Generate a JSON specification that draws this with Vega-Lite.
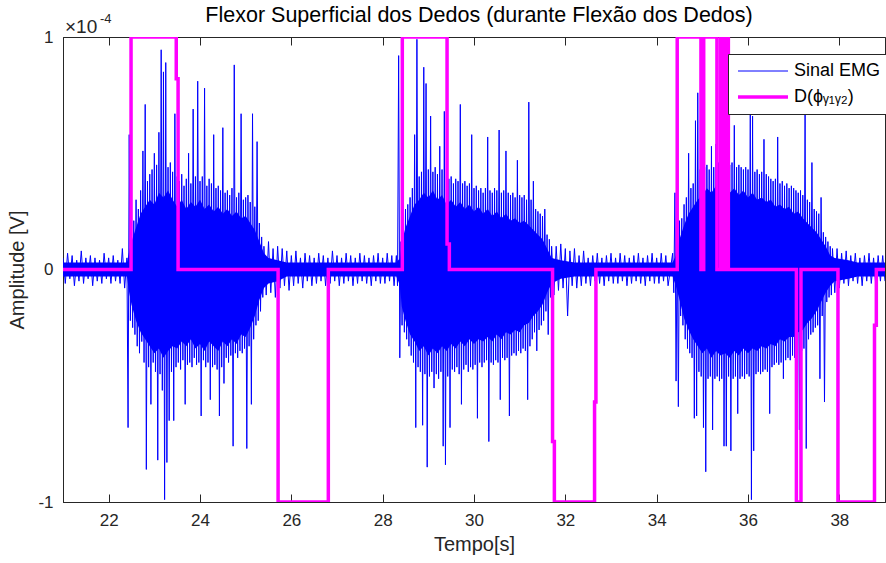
{
"$schema": "https://vega.github.io/schema/vega-lite/v6.json",
"width": 822, "height": 465,
"autosize": {"type": "none"},
"padding": {"left": 63, "top": 37, "right": 1, "bottom": 61},
"background": "white",
"title": {"text": "Flexor Superficial dos Dedos (durante Flexão dos Dedos)", "fontSize": 21.5, "font": "Liberation Sans", "fontWeight": "normal", "color": "#000000", "offset": -13, "anchor": "middle", "dx": 5},
"config": {
  "view": {"stroke": "#262626", "strokeWidth": 1},
  "axis": {"grid": false, "domainColor": "#262626", "tickColor": "#262626", "labelColor": "#262626", "titleColor": "#262626", "labelFont": "Liberation Sans", "titleFont": "Liberation Sans", "labelFontSize": 17, "titleFontSize": 20, "titleFontWeight": "normal", "tickSize": -8, "labelPadding": 18}
},
"datasets": {
"emg": [
{"t":21.00,"v":0.05},{"t":21.05,"v":-0.06},{"t":21.10,"v":0.07},{"t":21.15,"v":-0.04},{"t":21.20,"v":0.06},{"t":21.25,"v":-0.07},{"t":21.30,"v":0.04},{"t":21.35,"v":-0.05},{"t":21.40,"v":0.08},{"t":21.45,"v":-0.06},{"t":21.50,"v":0.05},{"t":21.55,"v":-0.04},{"t":21.60,"v":0.06},{"t":21.65,"v":-0.07},{"t":21.70,"v":0.05},{"t":21.75,"v":-0.05},{"t":21.80,"v":0.04},{"t":21.85,"v":-0.06},{"t":21.90,"v":0.07},{"t":21.95,"v":-0.04},{"t":22.00,"v":0.05},{"t":22.05,"v":-0.06},{"t":22.10,"v":0.06},{"t":22.15,"v":-0.05},{"t":22.20,"v":0.04},{"t":22.25,"v":-0.06},{"t":22.30,"v":0.09},{"t":22.35,"v":-0.08},
{"t":22.400,"v":0.05},{"t":22.425,"v":-0.68},{"t":22.450,"v":0.58},{"t":22.475,"v":-0.22},{"t":22.500,"v":0.16},{"t":22.525,"v":-0.25},{"t":22.550,"v":0.21},{"t":22.575,"v":-0.28},{"t":22.600,"v":0.30},{"t":22.625,"v":-0.33},{"t":22.650,"v":0.26},{"t":22.675,"v":-0.36},{"t":22.700,"v":0.34},{"t":22.725,"v":-0.31},{"t":22.750,"v":0.51},{"t":22.775,"v":-0.40},{"t":22.800,"v":0.71},{"t":22.825,"v":-0.86},{"t":22.850,"v":0.38},{"t":22.875,"v":-0.42},{"t":22.900,"v":0.41},{"t":22.925,"v":-0.58},{"t":22.950,"v":0.43},{"t":22.975,"v":-0.40},{"t":23.000,"v":0.50},{"t":23.025,"v":-0.44},{"t":23.050,"v":0.45},{"t":23.075,"v":-0.82},{"t":23.100,"v":0.59},{"t":23.125,"v":-0.45},{"t":23.150,"v":0.945},{"t":23.175,"v":-0.52},{"t":23.200,"v":0.85},{"t":23.225,"v":-0.99},{"t":23.250,"v":0.89},{"t":23.275,"v":-0.83},{"t":23.300,"v":0.44},{"t":23.325,"v":-0.65},{"t":23.350,"v":0.46},{"t":23.375,"v":-0.44},{"t":23.400,"v":0.42},{"t":23.425,"v":-0.65},{"t":23.450,"v":0.67},{"t":23.475,"v":-0.42},{"t":23.500,"v":0.40},{"t":23.525,"v":-0.40},{"t":23.550,"v":0.38},{"t":23.575,"v":-0.43},{"t":23.600,"v":0.41},{"t":23.625,"v":-0.39},{"t":23.650,"v":0.36},{"t":23.675,"v":-0.58},{"t":23.700,"v":0.39},{"t":23.725,"v":-0.41},{"t":23.750,"v":0.50},{"t":23.775,"v":-0.40},{"t":23.800,"v":0.37},{"t":23.825,"v":-0.42},{"t":23.850,"v":0.69},{"t":23.875,"v":-0.38},{"t":23.900,"v":0.40},{"t":23.925,"v":-0.41},{"t":23.950,"v":0.81},{"t":23.975,"v":-0.40},{"t":24.000,"v":0.38},{"t":24.025,"v":-0.63},{"t":24.050,"v":0.40},{"t":24.075,"v":-0.39},{"t":24.100,"v":0.78},{"t":24.125,"v":-0.42},{"t":24.150,"v":0.36},{"t":24.175,"v":-0.40},{"t":24.200,"v":0.39},{"t":24.225,"v":-0.56},{"t":24.250,"v":0.37},{"t":24.275,"v":-0.42},{"t":24.300,"v":0.58},{"t":24.325,"v":-0.41},{"t":24.350,"v":0.35},{"t":24.375,"v":-0.43},{"t":24.400,"v":0.36},{"t":24.425,"v":-0.63},{"t":24.450,"v":0.34},{"t":24.475,"v":-0.42},{"t":24.500,"v":0.61},{"t":24.525,"v":-0.49},{"t":24.550,"v":0.33},{"t":24.575,"v":-0.38},{"t":24.600,"v":0.34},{"t":24.625,"v":-0.40},{"t":24.650,"v":0.32},{"t":24.675,"v":-0.37},{"t":24.700,"v":0.35},{"t":24.725,"v":-0.76},{"t":24.750,"v":0.88},{"t":24.775,"v":-0.36},{"t":24.800,"v":0.31},{"t":24.825,"v":-0.38},{"t":24.850,"v":0.33},{"t":24.875,"v":-0.35},{"t":24.900,"v":0.67},{"t":24.925,"v":-0.36},{"t":24.950,"v":0.30},{"t":24.975,"v":-0.34},{"t":25.000,"v":0.31},{"t":25.025,"v":-0.77},{"t":25.050,"v":0.32},{"t":25.075,"v":-0.33},{"t":25.100,"v":0.29},{"t":25.125,"v":-0.58},{"t":25.150,"v":0.67},{"t":25.175,"v":-0.30},{"t":25.200,"v":0.27},{"t":25.225,"v":-0.24},{"t":25.250,"v":0.55},{"t":25.275,"v":-0.22},{"t":25.300,"v":0.20},{"t":25.325,"v":-0.18},{"t":25.350,"v":0.14},{"t":25.375,"v":-0.12},{"t":25.400,"v":0.10},
{"t":25.45,"v":-0.11},{"t":25.50,"v":0.12},{"t":25.55,"v":-0.10},{"t":25.60,"v":0.09},{"t":25.65,"v":-0.12},{"t":25.70,"v":0.10},{"t":25.75,"v":-0.08},{"t":25.80,"v":0.09},{"t":25.85,"v":-0.07},{"t":25.90,"v":0.08},{"t":25.95,"v":-0.09},{"t":26.00,"v":0.06},{"t":26.05,"v":-0.07},{"t":26.10,"v":0.08},{"t":26.15,"v":-0.06},{"t":26.20,"v":0.05},{"t":26.25,"v":-0.08},{"t":26.30,"v":0.07},{"t":26.35,"v":-0.05},{"t":26.40,"v":0.06},{"t":26.45,"v":-0.07},{"t":26.50,"v":0.05},{"t":26.55,"v":-0.06},{"t":26.60,"v":0.07},{"t":26.65,"v":-0.05},{"t":26.70,"v":0.06},{"t":26.75,"v":-0.07},{"t":26.80,"v":0.05},{"t":26.85,"v":-0.06},{"t":26.90,"v":0.08},{"t":26.95,"v":-0.05},{"t":27.00,"v":0.06},{"t":27.05,"v":-0.07},{"t":27.10,"v":0.05},{"t":27.15,"v":-0.06},{"t":27.20,"v":0.07},{"t":27.25,"v":-0.05},{"t":27.30,"v":0.06},{"t":27.35,"v":-0.07},{"t":27.40,"v":0.05},{"t":27.45,"v":-0.06},{"t":27.50,"v":0.07},{"t":27.55,"v":-0.05},{"t":27.60,"v":0.06},{"t":27.65,"v":-0.06},{"t":27.70,"v":0.05},{"t":27.75,"v":-0.07},{"t":27.80,"v":0.06},{"t":27.85,"v":-0.05},{"t":27.90,"v":0.07},{"t":27.95,"v":-0.06},{"t":28.00,"v":0.05},{"t":28.05,"v":-0.06},{"t":28.10,"v":0.07},{"t":28.15,"v":-0.05},{"t":28.20,"v":0.06},{"t":28.25,"v":-0.07},
{"t":28.300,"v":0.06},{"t":28.325,"v":-0.07},{"t":28.350,"v":0.92},{"t":28.375,"v":-0.38},{"t":28.400,"v":0.12},{"t":28.425,"v":-0.24},{"t":28.450,"v":0.22},{"t":28.475,"v":-0.27},{"t":28.500,"v":0.26},{"t":28.525,"v":-0.30},{"t":28.550,"v":0.28},{"t":28.575,"v":-0.33},{"t":28.600,"v":0.31},{"t":28.625,"v":-0.37},{"t":28.650,"v":0.35},{"t":28.675,"v":-0.40},{"t":28.700,"v":0.58},{"t":28.725,"v":-0.68},{"t":28.750,"v":0.99},{"t":28.775,"v":-0.42},{"t":28.800,"v":0.40},{"t":28.825,"v":-0.44},{"t":28.850,"v":0.42},{"t":28.875,"v":-0.67},{"t":28.900,"v":0.87},{"t":28.925,"v":-0.45},{"t":28.950,"v":0.80},{"t":28.975,"v":-0.85},{"t":29.000,"v":0.43},{"t":29.025,"v":-0.46},{"t":29.050,"v":0.66},{"t":29.075,"v":-0.44},{"t":29.100,"v":0.42},{"t":29.125,"v":-0.51},{"t":29.150,"v":0.44},{"t":29.175,"v":-0.45},{"t":29.200,"v":0.41},{"t":29.225,"v":-0.47},{"t":29.250,"v":0.53},{"t":29.275,"v":-0.44},{"t":29.300,"v":0.43},{"t":29.325,"v":-0.76},{"t":29.350,"v":0.68},{"t":29.375,"v":-0.84},{"t":29.400,"v":0.42},{"t":29.425,"v":-0.46},{"t":29.450,"v":0.39},{"t":29.475,"v":-0.68},{"t":29.500,"v":0.40},{"t":29.525,"v":-0.43},{"t":29.550,"v":0.37},{"t":29.575,"v":-0.44},{"t":29.600,"v":0.39},{"t":29.625,"v":-0.42},{"t":29.650,"v":0.38},{"t":29.675,"v":-0.45},{"t":29.700,"v":0.71},{"t":29.725,"v":-0.58},{"t":29.750,"v":0.37},{"t":29.775,"v":-0.43},{"t":29.800,"v":0.38},{"t":29.825,"v":-0.41},{"t":29.850,"v":0.36},{"t":29.875,"v":-0.44},{"t":29.900,"v":0.37},{"t":29.925,"v":-0.42},{"t":29.950,"v":0.58},{"t":29.975,"v":-0.43},{"t":30.000,"v":0.35},{"t":30.025,"v":-0.41},{"t":30.050,"v":0.36},{"t":30.075,"v":-0.64},{"t":30.100,"v":0.34},{"t":30.125,"v":-0.40},{"t":30.150,"v":0.35},{"t":30.175,"v":-0.42},{"t":30.200,"v":0.33},{"t":30.225,"v":-0.40},{"t":30.250,"v":0.35},{"t":30.275,"v":-0.39},{"t":30.300,"v":0.57},{"t":30.325,"v":-0.74},{"t":30.350,"v":0.34},{"t":30.375,"v":-0.40},{"t":30.400,"v":0.33},{"t":30.425,"v":-0.41},{"t":30.450,"v":0.35},{"t":30.475,"v":-0.39},{"t":30.500,"v":0.34},{"t":30.525,"v":-0.40},{"t":30.550,"v":0.60},{"t":30.575,"v":-0.56},{"t":30.600,"v":0.33},{"t":30.625,"v":-0.38},{"t":30.650,"v":0.34},{"t":30.675,"v":-0.39},{"t":30.700,"v":0.51},{"t":30.725,"v":-0.38},{"t":30.750,"v":0.33},{"t":30.775,"v":-0.63},{"t":30.800,"v":0.32},{"t":30.825,"v":-0.37},{"t":30.850,"v":0.33},{"t":30.875,"v":-0.36},{"t":30.900,"v":0.31},{"t":30.925,"v":-0.37},{"t":30.950,"v":0.47},{"t":30.975,"v":-0.35},{"t":31.000,"v":0.32},{"t":31.025,"v":-0.36},{"t":31.050,"v":0.31},{"t":31.075,"v":-0.34},{"t":31.100,"v":0.32},{"t":31.125,"v":-0.35},{"t":31.150,"v":0.30},{"t":31.175,"v":-0.56},{"t":31.200,"v":0.72},{"t":31.225,"v":-0.33},{"t":31.250,"v":0.30},{"t":31.275,"v":-0.30},{"t":31.300,"v":0.38},{"t":31.325,"v":-0.27},{"t":31.350,"v":0.26},{"t":31.375,"v":-0.35},{"t":31.400,"v":0.25},{"t":31.425,"v":-0.26},{"t":31.450,"v":0.24},{"t":31.475,"v":-0.24},{"t":31.500,"v":0.23},{"t":31.525,"v":-0.22},{"t":31.550,"v":0.26},{"t":31.575,"v":-0.18},{"t":31.600,"v":0.15},{"t":31.625,"v":-0.28},{"t":31.650,"v":0.13},{"t":31.675,"v":-0.12},{"t":31.700,"v":0.10},
{"t":31.75,"v":-0.11},{"t":31.80,"v":0.10},{"t":31.85,"v":-0.09},{"t":31.90,"v":0.11},{"t":31.95,"v":-0.08},{"t":32.00,"v":0.09},{"t":32.05,"v":-0.20},{"t":32.10,"v":0.08},{"t":32.15,"v":-0.07},{"t":32.20,"v":0.09},{"t":32.25,"v":-0.08},{"t":32.30,"v":0.06},{"t":32.35,"v":-0.07},{"t":32.40,"v":0.08},{"t":32.45,"v":-0.06},{"t":32.50,"v":0.05},{"t":32.55,"v":-0.07},{"t":32.60,"v":0.06},{"t":32.65,"v":-0.05},{"t":32.70,"v":0.07},{"t":32.75,"v":-0.06},{"t":32.80,"v":0.05},{"t":32.85,"v":-0.07},{"t":32.90,"v":0.06},{"t":32.95,"v":-0.05},{"t":33.00,"v":0.07},{"t":33.05,"v":-0.06},{"t":33.10,"v":0.05},{"t":33.15,"v":-0.06},{"t":33.20,"v":0.07},{"t":33.25,"v":-0.05},{"t":33.30,"v":0.06},{"t":33.35,"v":-0.07},{"t":33.40,"v":0.05},{"t":33.45,"v":-0.06},{"t":33.50,"v":0.06},{"t":33.55,"v":-0.05},{"t":33.60,"v":0.07},{"t":33.65,"v":-0.06},{"t":33.70,"v":0.05},{"t":33.75,"v":-0.07},{"t":33.80,"v":0.06},{"t":33.85,"v":-0.05},{"t":33.90,"v":0.07},{"t":33.95,"v":-0.06},{"t":34.00,"v":0.05},{"t":34.05,"v":-0.06},{"t":34.10,"v":0.07},{"t":34.15,"v":-0.05},{"t":34.20,"v":0.06},{"t":34.25,"v":-0.07},
{"t":34.350,"v":0.07},{"t":34.375,"v":-0.10},{"t":34.400,"v":0.33},{"t":34.425,"v":-0.48},{"t":34.450,"v":0.18},{"t":34.475,"v":-0.59},{"t":34.500,"v":0.21},{"t":34.525,"v":-0.20},{"t":34.550,"v":0.22},{"t":34.575,"v":-0.24},{"t":34.600,"v":0.28},{"t":34.625,"v":-0.30},{"t":34.650,"v":0.31},{"t":34.675,"v":-0.34},{"t":34.700,"v":0.50},{"t":34.725,"v":-0.36},{"t":34.750,"v":0.35},{"t":34.775,"v":-0.38},{"t":34.800,"v":0.37},{"t":34.825,"v":-0.64},{"t":34.850,"v":0.64},{"t":34.875,"v":-0.63},{"t":34.900,"v":0.76},{"t":34.925,"v":-0.44},{"t":34.950,"v":0.43},{"t":34.975,"v":-0.46},{"t":35.000,"v":0.42},{"t":35.025,"v":-0.68},{"t":35.050,"v":0.44},{"t":35.075,"v":-0.87},{"t":35.100,"v":0.45},{"t":35.125,"v":-0.47},{"t":35.150,"v":0.43},{"t":35.175,"v":-0.46},{"t":35.200,"v":0.53},{"t":35.225,"v":-0.69},{"t":35.250,"v":0.44},{"t":35.275,"v":-0.47},{"t":35.300,"v":0.54},{"t":35.325,"v":-0.46},{"t":35.350,"v":0.46},{"t":35.375,"v":-0.48},{"t":35.400,"v":0.45},{"t":35.425,"v":-0.47},{"t":35.450,"v":0.76},{"t":35.475,"v":-0.76},{"t":35.500,"v":0.46},{"t":35.525,"v":-0.76},{"t":35.550,"v":0.47},{"t":35.575,"v":-0.46},{"t":35.600,"v":0.45},{"t":35.625,"v":-0.78},{"t":35.650,"v":0.46},{"t":35.675,"v":-0.47},{"t":35.700,"v":0.62},{"t":35.725,"v":-0.46},{"t":35.750,"v":0.44},{"t":35.775,"v":-0.62},{"t":35.800,"v":0.45},{"t":35.825,"v":-0.47},{"t":35.850,"v":0.44},{"t":35.875,"v":-0.46},{"t":35.900,"v":0.43},{"t":35.925,"v":-0.47},{"t":35.950,"v":0.44},{"t":35.975,"v":-0.45},{"t":36.000,"v":0.43},{"t":36.025,"v":-0.46},{"t":36.050,"v":0.67},{"t":36.075,"v":-0.99},{"t":36.100,"v":0.66},{"t":36.125,"v":-0.78},{"t":36.150,"v":0.42},{"t":36.175,"v":-0.45},{"t":36.200,"v":0.43},{"t":36.225,"v":-0.44},{"t":36.250,"v":0.41},{"t":36.275,"v":-0.45},{"t":36.300,"v":0.42},{"t":36.325,"v":-0.44},{"t":36.350,"v":0.56},{"t":36.375,"v":-0.43},{"t":36.400,"v":0.41},{"t":36.425,"v":-0.44},{"t":36.450,"v":0.40},{"t":36.475,"v":-0.62},{"t":36.500,"v":0.39},{"t":36.525,"v":-0.42},{"t":36.550,"v":0.38},{"t":36.575,"v":-0.41},{"t":36.600,"v":0.39},{"t":36.625,"v":-0.40},{"t":36.650,"v":0.57},{"t":36.675,"v":-0.41},{"t":36.700,"v":0.37},{"t":36.725,"v":-0.40},{"t":36.750,"v":0.38},{"t":36.775,"v":-0.47},{"t":36.800,"v":0.36},{"t":36.825,"v":-0.39},{"t":36.850,"v":0.37},{"t":36.875,"v":-0.38},{"t":36.900,"v":0.35},{"t":36.925,"v":-0.39},{"t":36.950,"v":0.36},{"t":36.975,"v":-0.37},{"t":37.000,"v":0.35},{"t":37.025,"v":-0.38},{"t":37.050,"v":0.34},{"t":37.075,"v":-0.36},{"t":37.100,"v":0.33},{"t":37.125,"v":-0.69},{"t":37.150,"v":0.34},{"t":37.175,"v":-0.35},{"t":37.200,"v":0.32},{"t":37.225,"v":-0.34},{"t":37.250,"v":0.67},{"t":37.275,"v":-0.77},{"t":37.300,"v":0.30},{"t":37.325,"v":-0.30},{"t":37.350,"v":0.29},{"t":37.375,"v":-0.28},{"t":37.400,"v":0.46},{"t":37.425,"v":-0.27},{"t":37.450,"v":0.26},{"t":37.475,"v":-0.25},{"t":37.500,"v":0.25},{"t":37.525,"v":-0.24},{"t":37.550,"v":0.24},{"t":37.575,"v":-0.47},{"t":37.600,"v":0.31},{"t":37.625,"v":-0.20},{"t":37.650,"v":0.16},{"t":37.675,"v":-0.57},{"t":37.700,"v":0.14},{"t":37.725,"v":-0.14},{"t":37.750,"v":0.12},{"t":37.775,"v":-0.12},{"t":37.800,"v":0.10},{"t":37.825,"v":-0.11},{"t":37.850,"v":0.09},
{"t":37.90,"v":-0.10},{"t":37.95,"v":0.09},{"t":38.00,"v":-0.08},{"t":38.05,"v":0.07},{"t":38.10,"v":-0.06},{"t":38.15,"v":0.08},{"t":38.20,"v":-0.07},{"t":38.25,"v":0.06},{"t":38.30,"v":-0.05},{"t":38.35,"v":0.07},{"t":38.40,"v":-0.06},{"t":38.45,"v":0.05},{"t":38.50,"v":-0.07},{"t":38.55,"v":0.06},{"t":38.60,"v":-0.05},{"t":38.65,"v":0.07},{"t":38.70,"v":-0.06},{"t":38.75,"v":0.05},{"t":38.80,"v":-0.07},{"t":38.85,"v":0.06},{"t":38.90,"v":-0.05},{"t":38.95,"v":0.06},{"t":39.00,"v":-0.05}
],
"core": [
{"t":21.00,"hi":0.03,"lo":-0.03},{"t":22.40,"hi":0.03,"lo":-0.03},{"t":22.45,"hi":0.08,"lo":-0.10},{"t":22.50,"hi":0.12,"lo":-0.15},{"t":22.60,"hi":0.18,"lo":-0.22},{"t":22.70,"hi":0.24,"lo":-0.27},{"t":22.80,"hi":0.27,"lo":-0.30},{"t":22.90,"hi":0.30,"lo":-0.33},{"t":23.00,"hi":0.28,"lo":-0.36},{"t":23.10,"hi":0.33,"lo":-0.34},{"t":23.20,"hi":0.31,"lo":-0.38},{"t":23.30,"hi":0.34,"lo":-0.35},{"t":23.40,"hi":0.30,"lo":-0.33},{"t":23.50,"hi":0.27,"lo":-0.34},{"t":23.60,"hi":0.30,"lo":-0.31},{"t":23.70,"hi":0.26,"lo":-0.33},{"t":23.80,"hi":0.29,"lo":-0.30},{"t":23.90,"hi":0.27,"lo":-0.34},{"t":24.00,"hi":0.30,"lo":-0.32},{"t":24.10,"hi":0.26,"lo":-0.35},{"t":24.20,"hi":0.28,"lo":-0.31},{"t":24.30,"hi":0.25,"lo":-0.33},{"t":24.40,"hi":0.27,"lo":-0.35},{"t":24.50,"hi":0.24,"lo":-0.31},{"t":24.60,"hi":0.26,"lo":-0.33},{"t":24.70,"hi":0.23,"lo":-0.30},{"t":24.80,"hi":0.25,"lo":-0.32},{"t":24.90,"hi":0.22,"lo":-0.28},{"t":25.00,"hi":0.23,"lo":-0.29},{"t":25.10,"hi":0.20,"lo":-0.25},{"t":25.20,"hi":0.17,"lo":-0.20},{"t":25.30,"hi":0.12,"lo":-0.13},{"t":25.40,"hi":0.07,"lo":-0.08},{"t":25.50,"hi":0.05,"lo":-0.06},{"t":25.70,"hi":0.04,"lo":-0.05},{"t":25.90,"hi":0.03,"lo":-0.03},
{"t":28.30,"hi":0.03,"lo":-0.03},{"t":28.38,"hi":0.05,"lo":-0.07},{"t":28.42,"hi":0.12,"lo":-0.16},{"t":28.50,"hi":0.18,"lo":-0.22},{"t":28.60,"hi":0.23,"lo":-0.28},{"t":28.70,"hi":0.28,"lo":-0.31},{"t":28.80,"hi":0.30,"lo":-0.35},{"t":28.90,"hi":0.33,"lo":-0.33},{"t":29.00,"hi":0.31,"lo":-0.37},{"t":29.10,"hi":0.34,"lo":-0.34},{"t":29.20,"hi":0.30,"lo":-0.36},{"t":29.30,"hi":0.32,"lo":-0.33},{"t":29.40,"hi":0.28,"lo":-0.35},{"t":29.50,"hi":0.30,"lo":-0.32},{"t":29.60,"hi":0.27,"lo":-0.34},{"t":29.70,"hi":0.29,"lo":-0.31},{"t":29.80,"hi":0.26,"lo":-0.33},{"t":29.90,"hi":0.28,"lo":-0.30},{"t":30.00,"hi":0.25,"lo":-0.32},{"t":30.10,"hi":0.27,"lo":-0.30},{"t":30.20,"hi":0.24,"lo":-0.31},{"t":30.30,"hi":0.26,"lo":-0.29},{"t":30.40,"hi":0.23,"lo":-0.31},{"t":30.50,"hi":0.25,"lo":-0.28},{"t":30.60,"hi":0.22,"lo":-0.30},{"t":30.70,"hi":0.24,"lo":-0.27},{"t":30.80,"hi":0.21,"lo":-0.28},{"t":30.90,"hi":0.22,"lo":-0.26},{"t":31.00,"hi":0.20,"lo":-0.27},{"t":31.10,"hi":0.21,"lo":-0.24},{"t":31.20,"hi":0.19,"lo":-0.23},{"t":31.30,"hi":0.17,"lo":-0.20},{"t":31.40,"hi":0.15,"lo":-0.18},{"t":31.50,"hi":0.13,"lo":-0.15},{"t":31.60,"hi":0.09,"lo":-0.10},{"t":31.70,"hi":0.05,"lo":-0.06},{"t":31.90,"hi":0.04,"lo":-0.04},{"t":32.20,"hi":0.03,"lo":-0.03},
{"t":34.35,"hi":0.03,"lo":-0.03},{"t":34.42,"hi":0.06,"lo":-0.07},{"t":34.50,"hi":0.13,"lo":-0.13},{"t":34.60,"hi":0.19,"lo":-0.21},{"t":34.70,"hi":0.24,"lo":-0.26},{"t":34.80,"hi":0.27,"lo":-0.30},{"t":34.90,"hi":0.30,"lo":-0.33},{"t":35.00,"hi":0.32,"lo":-0.36},{"t":35.10,"hi":0.35,"lo":-0.34},{"t":35.20,"hi":0.33,"lo":-0.38},{"t":35.30,"hi":0.36,"lo":-0.35},{"t":35.40,"hi":0.34,"lo":-0.37},{"t":35.50,"hi":0.36,"lo":-0.36},{"t":35.60,"hi":0.33,"lo":-0.38},{"t":35.70,"hi":0.35,"lo":-0.35},{"t":35.80,"hi":0.32,"lo":-0.37},{"t":35.90,"hi":0.34,"lo":-0.34},{"t":36.00,"hi":0.31,"lo":-0.36},{"t":36.10,"hi":0.33,"lo":-0.34},{"t":36.20,"hi":0.30,"lo":-0.35},{"t":36.30,"hi":0.31,"lo":-0.33},{"t":36.40,"hi":0.29,"lo":-0.34},{"t":36.50,"hi":0.30,"lo":-0.32},{"t":36.60,"hi":0.27,"lo":-0.33},{"t":36.70,"hi":0.28,"lo":-0.30},{"t":36.80,"hi":0.26,"lo":-0.31},{"t":36.90,"hi":0.27,"lo":-0.29},{"t":37.00,"hi":0.24,"lo":-0.29},{"t":37.10,"hi":0.25,"lo":-0.27},{"t":37.20,"hi":0.22,"lo":-0.26},{"t":37.30,"hi":0.20,"lo":-0.23},{"t":37.40,"hi":0.18,"lo":-0.21},{"t":37.50,"hi":0.16,"lo":-0.18},{"t":37.60,"hi":0.13,"lo":-0.14},{"t":37.70,"hi":0.10,"lo":-0.10},{"t":37.80,"hi":0.06,"lo":-0.07},{"t":37.90,"hi":0.05,"lo":-0.05},{"t":38.20,"hi":0.04,"lo":-0.04},{"t":38.40,"hi":0.03,"lo":-0.03},{"t":39.00,"hi":0.03,"lo":-0.03}
],
"d": [
{"i":0,"t":21.00,"v":0},{"i":1,"t":22.49,"v":0},{"i":2,"t":22.49,"v":1},{"i":3,"t":23.48,"v":1},{"i":4,"t":23.48,"v":0.82},{"i":5,"t":23.52,"v":0.82},{"i":6,"t":23.52,"v":0},{"i":7,"t":25.71,"v":0},{"i":8,"t":25.71,"v":-1},{"i":9,"t":26.81,"v":-1},{"i":10,"t":26.81,"v":0},{"i":11,"t":28.43,"v":0},{"i":12,"t":28.43,"v":1},{"i":13,"t":29.41,"v":1},{"i":14,"t":29.41,"v":0.11},{"i":15,"t":29.46,"v":0.11},{"i":16,"t":29.46,"v":0},{"i":17,"t":31.72,"v":0},{"i":18,"t":31.72,"v":-0.74},{"i":19,"t":31.76,"v":-0.74},{"i":20,"t":31.76,"v":-1},{"i":21,"t":32.64,"v":-1},{"i":22,"t":32.64,"v":-0.57},{"i":23,"t":32.67,"v":-0.57},{"i":24,"t":32.67,"v":0},{"i":25,"t":34.45,"v":0},{"i":26,"t":34.45,"v":1},{"i":27,"t":34.97,"v":1},{"i":28,"t":34.97,"v":0},{"i":29,"t":35.03,"v":0},{"i":30,"t":35.03,"v":1},{"i":31,"t":35.32,"v":1},{"i":32,"t":35.32,"v":0},{"i":33,"t":35.40,"v":0},{"i":34,"t":35.40,"v":1},{"i":35,"t":35.46,"v":1},{"i":36,"t":35.46,"v":0},{"i":37,"t":35.52,"v":0},{"i":38,"t":35.52,"v":1},{"i":39,"t":35.57,"v":1},{"i":40,"t":35.57,"v":0},{"i":41,"t":37.06,"v":0},{"i":42,"t":37.06,"v":-1},{"i":43,"t":37.16,"v":-1},{"i":44,"t":37.16,"v":0},{"i":45,"t":37.97,"v":0},{"i":46,"t":37.97,"v":-1},{"i":47,"t":38.77,"v":-1},{"i":48,"t":38.77,"v":-0.24},{"i":49,"t":38.81,"v":-0.24},{"i":50,"t":38.81,"v":0},{"i":51,"t":39.00,"v":0}
]
},
"layer": [
  {
    "data": {"name": "core"},
    "mark": {"type": "area", "color": "#0000ff", "clip": true},
    "encoding": {
      "x": {"field": "t", "type": "quantitative", "scale": {"domain": [21, 39], "nice": false, "zero": false}, "axis": null},
      "y": {"field": "hi", "type": "quantitative", "scale": {"domain": [-1, 1], "nice": false, "zero": false}, "axis": null},
      "y2": {"field": "lo"}
    }
  },
  {
    "data": {"name": "emg"},
    "mark": {"type": "line", "strokeWidth": 1, "clip": true},
    "encoding": {
      "x": {"field": "t", "type": "quantitative",
            "axis": {"orient": "bottom", "values": [22, 24, 26, 28, 30, 32, 34, 36, 38], "title": "Tempo[s]", "titlePadding": 6}},
      "y": {"field": "v", "type": "quantitative",
            "axis": {"orient": "left", "values": [-1, 0, 1], "labelExpr": "datum.value < 0 ? '-1' : (datum.value > 0 ? '1' : '0')", "title": "Amplitude [V]", "titlePadding": 10}},
      "color": {"datum": "Sinal EMG", "type": "nominal",
        "scale": {"domain": ["Sinal EMG", "D(ϕᵧ₁ᵧ₂)"], "range": ["#0000ff", "#ff00ff"]},
        "legend": {"title": null, "orient": "none", "legendX": 665, "legendY": 17, "symbolType": "stroke", "symbolSize": 2500, "symbolOffset": 18, "labelOffset": 22, "labelFontSize": 18, "labelFont": "Liberation Sans", "labelColor": "#000000", "strokeColor": "#262626", "fillColor": "white", "padding": 8, "rowPadding": 8, "labelLimit": 0, "symbolStrokeWidth": 2,
          "encode": {"symbols": {"update": {"strokeWidth": {"signal": "datum.value === 'Sinal EMG' ? 1 : 3.5"}}}}}
      }
    }
  },
  {
    "data": {"name": "d"},
    "mark": {"type": "line", "strokeWidth": 3.5, "clip": true},
    "encoding": {
      "x": {"field": "t", "type": "quantitative", "axis": {"orient": "top", "values": [22, 24, 26, 28, 30, 32, 34, 36, 38], "labels": false, "title": null, "domain": false}},
      "y": {"field": "v", "type": "quantitative", "axis": {"orient": "right", "values": [-1, 0, 1], "labels": false, "title": null, "domain": false}},
      "order": {"field": "i", "type": "quantitative"},
      "color": {"datum": "D(ϕᵧ₁ᵧ₂)", "type": "nominal"}
    }
  },
  {
    "data": {"values": [{"t": 21, "v": 1, "s": "×10"}]},
    "mark": {"type": "text", "align": "left", "baseline": "alphabetic", "dx": 2, "dy": -4, "fontSize": 19, "font": "Liberation Sans", "color": "#262626", "clip": false},
    "encoding": {
      "x": {"field": "t", "type": "quantitative", "axis": null},
      "y": {"field": "v", "type": "quantitative", "axis": null},
      "text": {"field": "s"}
    }
  },
  {
    "data": {"values": [{"t": 21, "v": 1, "s": "-4"}]},
    "mark": {"type": "text", "align": "left", "baseline": "alphabetic", "dx": 37, "dy": -14, "fontSize": 13, "font": "Liberation Sans", "color": "#262626", "clip": false},
    "encoding": {
      "x": {"field": "t", "type": "quantitative", "axis": null},
      "y": {"field": "v", "type": "quantitative", "axis": null},
      "text": {"field": "s"}
    }
  }
],
"resolve": {"axis": {"x": "independent", "y": "independent"}}
}
